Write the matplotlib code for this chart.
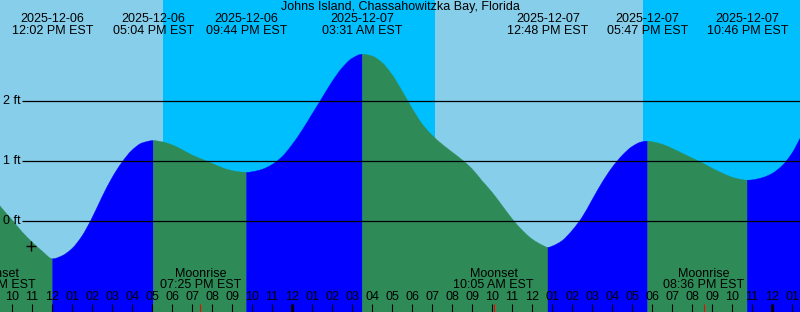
import numpy as np
import matplotlib.pyplot as plt
from matplotlib.path import Path
from matplotlib.patches import PathPatch

# hours counted from 2025-12-06 00:00 EST, heights in ft
curve_t = [9.0, 9.5, 10.0, 10.5, 11.0, 11.5,
           12.5, 13.0, 13.5, 14.0, 14.5, 15.0, 15.5, 16.0, 16.5,
           17.5, 18.0, 18.5, 19.0, 19.5, 20.0, 20.5, 21.0, 21.5,
           22.0, 22.5, 23.0, 23.5, 24.0, 24.5, 25.0, 25.5, 26.0, 26.5, 27.0,
           28.0, 28.5, 29.0, 29.5, 30.0, 30.5, 31.0, 31.5, 32.0, 32.5, 33.0, 33.5,
           34.0, 34.5, 35.0, 35.5, 36.0, 36.5,
           37.0, 37.5, 38.0, 38.5, 39.0, 39.5, 40.0, 40.5, 41.0, 41.5,
           42.0, 42.5, 43.0, 43.5, 44.0, 44.5, 45.0, 45.5, 46.0, 46.5,
           47.0, 47.5, 48.0, 48.5, 49.0, 49.5, 50.0]
curve_h = [0.42, 0.21, 0.02, -0.18, -0.35, -0.50,
           -0.58, -0.46, -0.25, 0.05, 0.40, 0.72, 0.98, 1.18, 1.30,
           1.32, 1.27, 1.19, 1.10, 1.03, 0.96, 0.89, 0.84, 0.815,
           0.82, 0.86, 0.94, 1.07, 1.27, 1.51, 1.78, 2.05, 2.32, 2.55, 2.71,
           2.75, 2.64, 2.44, 2.17, 1.88, 1.62, 1.43, 1.28, 1.15, 1.02, 0.87, 0.67,
           0.48, 0.26, 0.04, -0.15, -0.30, -0.40,
           -0.42, -0.33, -0.16, 0.06, 0.35, 0.64, 0.89, 1.09, 1.24, 1.32,
           1.32, 1.28, 1.21, 1.13, 1.05, 0.97, 0.88, 0.80, 0.73, 0.69,
           0.685, 0.72, 0.79, 0.92, 1.13, 1.44, 1.76]

# high / low tide events
event_t = [12.033, 17.067, 21.733, 27.517, 36.8, 41.783, 46.767]
event_h = [-0.63, 1.34, 0.81, 2.78, -0.44, 1.33, 0.68]
event_date = ["2025-12-06", "2025-12-06", "2025-12-06", "2025-12-07",
              "2025-12-07", "2025-12-07", "2025-12-07"]
event_time = ["12:02 PM EST", "05:04 PM EST", "09:44 PM EST", "03:31 AM EST",
              "12:48 PM EST", "05:47 PM EST", "10:46 PM EST"]

# sunset / sunrise
sun_t = [17.53, 31.15, 41.53]

# moon events
moon_t = [9.15, 19.417, 34.083, 44.6]
moon_name = ["Moonset", "Moonrise", "Moonset", "Moonrise"]
moon_time = ["09:09 AM EST", "07:25 PM EST", "10:05 AM EST", "08:36 PM EST"]

title = "Johns Island, Chassahowitzka Bay, Florida"
ft_levels = [0, 1, 2]

t0, t1 = 9.4, 49.4
W, H = 800, 312
FS = 9


def py(p):
    # pixel row -> feet
    return (221 - p) / 60.0


def slopes(x, y):
    # monotone (Fritsch-Carlson) tangents so the drawn curve stays smooth
    h = np.diff(x)
    d = np.diff(y) / h
    m = np.zeros_like(y)
    m[0], m[-1] = d[0], d[-1]
    for k in range(1, len(x) - 1):
        if d[k - 1] * d[k] > 0:
            w1 = 2 * h[k] + h[k - 1]
            w2 = h[k] + 2 * h[k - 1]
            m[k] = (w1 + w2) / (w1 / d[k - 1] + w2 / d[k])
    return m


plt.rcParams['font.family'] = ['Liberation Sans', 'DejaVu Sans']
fig = plt.figure(figsize=(W / 100, H / 100), dpi=100)
ax = fig.add_axes([0, 0, 1, 1])
ax.set_xlim(t0, t1)
ax.set_ylim(py(H), py(0))
ax.axis('off')

# sky
edges = [t0] + sun_t + [t1]
for i in range(len(edges) - 1):
    ax.axvspan(edges[i], edges[i + 1], color='#87CEEB' if i % 2 == 0 else '#00BFFF', lw=0)

# water, blue while rising, green while falling
tt = np.concatenate([curve_t, event_t])
hh = np.concatenate([curve_h, event_h])
order = np.argsort(tt)
tt, hh = tt[order], hh[order]
mm = slopes(tt, hh)
bottom = py(H) - 0.1
idx = [0] + [int(np.argmin(abs(tt - e))) for e in event_t] + [len(tt) - 1]
for a, b in zip(idx[:-1], idx[1:]):
    verts = [(tt[a], bottom), (tt[a], hh[a])]
    codes = [Path.MOVETO, Path.LINETO]
    for k in range(a, b):
        dx = tt[k + 1] - tt[k]
        verts += [(tt[k] + dx / 3, hh[k] + mm[k] * dx / 3),
                  (tt[k + 1] - dx / 3, hh[k + 1] - mm[k + 1] * dx / 3),
                  (tt[k + 1], hh[k + 1])]
        codes += [Path.CURVE4] * 3
    verts += [(tt[b], bottom), (tt[a], bottom)]
    codes += [Path.LINETO, Path.CLOSEPOLY]
    col = '#0000FF' if hh[b] > hh[a] else '#2E8B57'
    ax.add_patch(PathPatch(Path(verts, codes), facecolor=col, edgecolor=col, lw=0.3))

# grid
for lv in ft_levels:
    ax.hlines(lv, t0 + 22 / 20, t1, color='black', lw=0.9)
    ax.text(t0 + 20.5 / 20, lv, "%d ft" % lv, ha='right', va='center', fontsize=FS)

ax.plot([10.925], [py(246)], marker='+', color='black', ms=7, mew=1)

# top labels
ax.text((t0 + t1) / 2, py(7.5), title, ha='center', va='center', fontsize=FS)
for t, d, s in zip(event_t, event_date, event_time):
    ax.text(t, py(19.5), d, ha='center', va='center', fontsize=FS)
    ax.text(t, py(31.5), s, ha='center', va='center', fontsize=FS)

# hour ticks
for hr in range(9, 50):
    lw = 2.2 if hr % 24 == 0 else 0.8
    ax.vlines(hr, py(H), py(304), color='black', lw=lw)
    if hr >= 10:
        lab = "%02d" % ((hr - 1) % 12 + 1)
        ax.text(hr, py(297), lab, ha='center', va='center', fontsize=FS)

for t, n, s in zip(moon_t, moon_name, moon_time):
    ax.vlines(t, py(H), py(304), color='red', lw=0.8)
    ax.text(t, py(274), n, ha='center', va='center', fontsize=FS)
    ax.text(t, py(285.5), s, ha='center', va='center', fontsize=FS)

fig.savefig('out.png', dpi=100)
